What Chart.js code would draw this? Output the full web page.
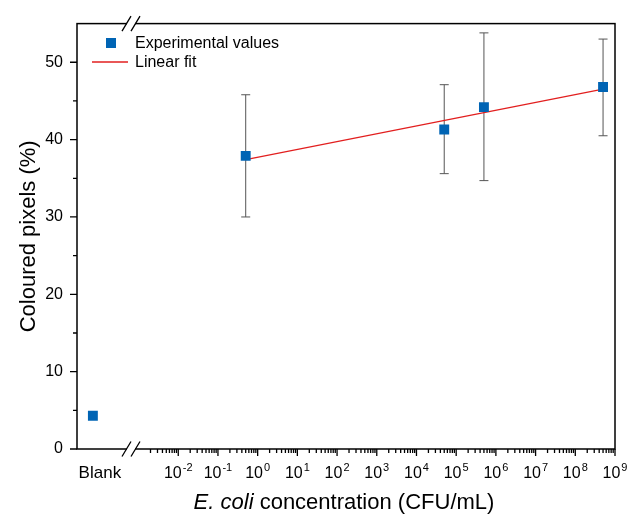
<!DOCTYPE html>
<html lang="en">
<head>
<meta charset="UTF-8">
<title>E. coli coloured pixels</title>
<script src="https://cdn.jsdelivr.net/npm/chart.js"></script>
<style>
  body { margin: 0; padding: 0; background: #fff; }
  #chart { display: block; }
</style>
</head>
<body>
<canvas id="chart" width="643" height="517"></canvas>
<script>
// measured samples (CFU/mL) and % coloured pixels
const concentrations = [0.5, 5e4, 5e5, 5e8];
const meanPercent = [37.9, 41.3, 44.2, 46.8];
const errLower = [30.0, 35.6, 34.7, 40.5];
const errUpper = [45.8, 47.1, 53.8, 53.0];
const blankPercent = 4.3;
const blankLabel = 'Blank';

// linear fit  y = a + b * log10(c)
const fitIntercept = 37.73;
const fitSlope = 1.01;

// x axis is in log10 units, blank sits left of the break
const blankPos = -4.15;
const breakPos = -3.19;
const xMin = -4.55, xMax = 9;
const xTickExponents = [-2, -1, 0, 1, 2, 3, 4, 5, 6, 7, 8, 9];
const yTicks = [0, 10, 20, 30, 40, 50];
const yMinorTicks = [5, 15, 25, 35, 45];
const yMax = 55;

const FONT = "'Liberation Sans', Arial, sans-serif";
const BLUE = '#0064B4';
const RED = '#E21F1F';

const points = [{x: blankPos, y: blankPercent}].concat(
  concentrations.map((c, i) => ({x: Math.log10(c), y: meanPercent[i]}))
);
const fitEnds = [concentrations[0], concentrations[concentrations.length - 1]];
const fitLine = fitEnds.map(c => ({x: Math.log10(c), y: fitIntercept + fitSlope * Math.log10(c)}));

const decor = {
  id: 'decor',
  beforeDatasetsDraw(chart) {
    const {ctx, scales: {x, y}} = chart;
    ctx.save();
    ctx.strokeStyle = '#555';
    ctx.lineWidth = 1;
    concentrations.forEach((c, i) => {
      const px = x.getPixelForValue(Math.log10(c));
      const lo = y.getPixelForValue(errLower[i]);
      const hi = y.getPixelForValue(errUpper[i]);
      ctx.beginPath();
      ctx.moveTo(px, lo); ctx.lineTo(px, hi);
      ctx.moveTo(px - 4.5, lo); ctx.lineTo(px + 4.5, lo);
      ctx.moveTo(px - 4.5, hi); ctx.lineTo(px + 4.5, hi);
      ctx.stroke();
    });
    ctx.restore();
  },
  afterDraw(chart) {
    const {ctx, chartArea: a, scales: {x, y}} = chart;
    ctx.save();
    ctx.strokeStyle = '#000';
    ctx.fillStyle = '#000';

    // frame
    ctx.lineWidth = 1.5;
    ctx.strokeRect(a.left, a.top, a.right - a.left, a.bottom - a.top);

    // y tick marks
    ctx.beginPath();
    yTicks.forEach(v => { const py = y.getPixelForValue(v); ctx.moveTo(a.left - 7, py); ctx.lineTo(a.left, py); });
    yMinorTicks.forEach(v => { const py = y.getPixelForValue(v); ctx.moveTo(a.left - 4, py); ctx.lineTo(a.left, py); });
    ctx.lineWidth = 1.3;
    ctx.stroke();

    // x tick marks (log decades with minor ticks), right of the break
    ctx.beginPath();
    for (let d = -3; d <= 8; d++) {
      for (let m = 2; m <= 9; m++) {
        const v = d + Math.log10(m);
        if (v <= breakPos + 0.2) continue;
        const px = x.getPixelForValue(v);
        ctx.moveTo(px, a.bottom); ctx.lineTo(px, a.bottom + 4);
      }
    }
    xTickExponents.forEach(e => { const px = x.getPixelForValue(e); ctx.moveTo(px, a.bottom); ctx.lineTo(px, a.bottom + 7); });
    ctx.lineWidth = 1.3;
    ctx.stroke();

    // x tick labels 10^n
    ctx.textBaseline = 'alphabetic';
    ctx.textAlign = 'left';
    const base = a.bottom + 29;
    xTickExponents.forEach(e => {
      const px = x.getPixelForValue(e);
      ctx.font = '16px ' + FONT;
      const w1 = ctx.measureText('10').width;
      ctx.font = '11px ' + FONT;
      const w2 = ctx.measureText(String(e)).width;
      const start = px - (w1 + w2 + 1) / 2;
      ctx.font = '16px ' + FONT;
      ctx.fillText('10', start, base);
      ctx.font = '11px ' + FONT;
      ctx.fillText(String(e), start + w1 + 1, base - 7);
    });
    ctx.font = '17px ' + FONT;
    ctx.textAlign = 'center';
    ctx.fillText(blankLabel, x.getPixelForValue(blankPos) + 7, base);

    // axis breaks
    const bx = x.getPixelForValue(breakPos);
    [a.top, a.bottom].forEach(by => {
      ctx.fillStyle = '#fff';
      ctx.fillRect(bx - 4, by - 2, 8, 4);
      ctx.beginPath();
      [-4.5, 4.5].forEach(o => {
        const cx = bx + o;
        ctx.moveTo(cx - 4.5, by + 7.5);
        ctx.lineTo(cx + 4.5, by - 7.5);
      });
      ctx.lineWidth = 1.3;
      ctx.strokeStyle = '#000';
      ctx.stroke();
    });
    ctx.fillStyle = '#000';

    // axis titles
    ctx.save();
    ctx.translate(35, (a.top + a.bottom) / 2);
    ctx.rotate(-Math.PI / 2);
    ctx.font = '22px ' + FONT;
    ctx.textAlign = 'center';
    ctx.textBaseline = 'alphabetic';
    ctx.fillText('Coloured pixels (%)', 0, 0);
    ctx.restore();

    const t1 = 'E. coli', t2 = ' concentration (CFU/mL)';
    ctx.font = 'italic 22px ' + FONT;
    const tw1 = ctx.measureText(t1).width;
    ctx.font = '22px ' + FONT;
    const tw2 = ctx.measureText(t2).width;
    const tx = 344 - (tw1 + tw2) / 2;
    ctx.textAlign = 'left';
    ctx.textBaseline = 'alphabetic';
    ctx.font = 'italic 22px ' + FONT;
    ctx.fillText(t1, tx, 509);
    ctx.font = '22px ' + FONT;
    ctx.fillText(t2, tx + tw1, 509);

    // legend
    ctx.fillStyle = BLUE;
    ctx.fillRect(106, 38, 10, 10);
    ctx.strokeStyle = RED;
    ctx.lineWidth = 1.3;
    ctx.beginPath();
    ctx.moveTo(92, 62); ctx.lineTo(128, 62);
    ctx.stroke();
    ctx.fillStyle = '#000';
    ctx.font = '16px ' + FONT;
    ctx.textBaseline = 'middle';
    ctx.fillText('Experimental values', 135, 44);
    ctx.fillText('Linear fit', 135, 63);
    ctx.restore();
  }
};

new Chart(document.getElementById('chart'), {
  type: 'scatter',
  data: {
    datasets: [{
      label: 'Experimental values',
      data: points,
      pointStyle: 'rect',
      pointRadius: 7,
      pointHoverRadius: 7,
      backgroundColor: BLUE,
      borderColor: BLUE,
      borderWidth: 0,
      showLine: false
    }, {
      label: 'Linear fit',
      data: fitLine,
      showLine: true,
      borderColor: RED,
      borderWidth: 1.3,
      pointRadius: 0
    }]
  },
  options: {
    responsive: false,
    animation: false,
    layout: { padding: { top: 14, right: 28, left: 0, bottom: 0 } },
    plugins: { legend: { display: false }, tooltip: { enabled: false } },
    scales: {
      x: {
        type: 'linear',
        min: xMin,
        max: xMax,
        grid: { display: false, drawTicks: false },
        border: { display: false },
        ticks: { display: false },
        afterFit: s => { s.height = 68; }
      },
      y: {
        min: 0,
        max: yMax,
        grid: { display: false, drawTicks: false },
        border: { display: false },
        afterBuildTicks: s => { s.ticks = yTicks.map(v => ({value: v})); },
        ticks: { padding: 14, color: '#000', font: { family: FONT, size: 16 } },
        afterFit: s => { s.width = 77; }
      }
    }
  },
  plugins: [decor]
});
</script>
</body>
</html>
